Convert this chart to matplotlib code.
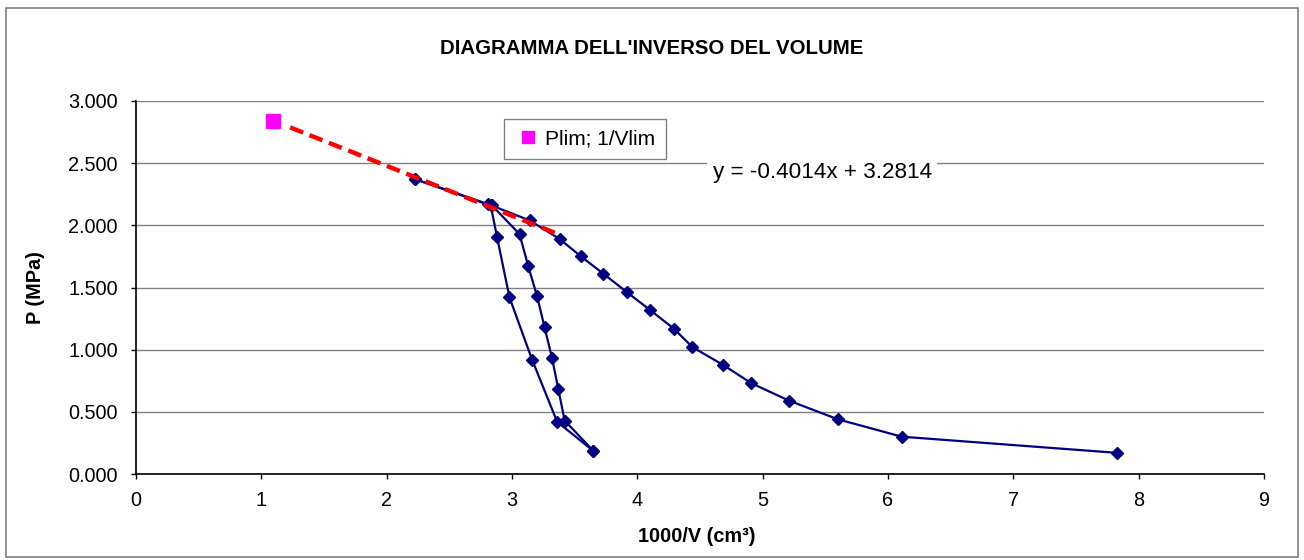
import matplotlib
matplotlib.use("Agg")
import matplotlib.pyplot as plt
from matplotlib.patches import Rectangle
from matplotlib.legend_handler import HandlerLine2D
import numpy as np

plt.rcParams['font.family'] = ['Liberation Sans', 'DejaVu Sans']
plt.rcParams['lines.scale_dashes'] = False

# Loading branch: 1000/V vs pressure (MPa)
load_x = [7.83, 6.11, 5.60, 5.21, 4.91, 4.68, 4.44, 4.29, 4.10, 3.92, 3.73, 3.55, 3.38, 3.14, 2.81, 2.23]
load_p = [0.17, 0.30, 0.44, 0.59, 0.73, 0.88, 1.02, 1.17, 1.32, 1.46, 1.61, 1.75, 1.89, 2.04, 2.17, 2.37]

# Unloading branch
unload_x = [2.23, 2.83, 2.88, 2.98, 3.16, 3.36, 3.65]
unload_p = [2.37, 2.16, 1.91, 1.42, 0.92, 0.42, 0.185]

# Reloading branch
reload_x = [3.65, 3.42, 3.37, 3.32, 3.26, 3.20, 3.13, 3.06, 2.84]
reload_p = [0.185, 0.43, 0.68, 0.93, 1.18, 1.43, 1.67, 1.93, 2.16]

# Linear trend of the upper points (extended backwards) and limit pressure
trend_slope = -0.4014
trend_intercept = 3.2814
trend_x = [1.23, 3.38]
plim_x = [1.094]
plim_p = [trend_intercept + trend_slope * plim_x[0]]

x_ticks = list(range(0, 10))
y_ticks = [0.0, 0.5, 1.0, 1.5, 2.0, 2.5, 3.0]


class MarkerAtRight(HandlerLine2D):
    """Legend handler that puts the single marker near the right end of the handle."""
    def get_xdata(self, legend, xdescent, ydescent, width, height, fontsize):
        xd = np.array([-xdescent, -xdescent + width])
        xm = np.array([-xdescent + width - 2.0])
        return xd, xm


W, H = 1304, 560
fig = plt.figure(figsize=(W / 100, H / 100), dpi=100)
ax = fig.add_axes([136 / W, 1 - 474 / H, 1128 / W, 373 / H])

navy = '#000080'
style = dict(color=navy, lw=1.6, marker='D', ms=6.5, mfc=navy, mec=navy, zorder=3)
ax.plot(load_x, load_p, **style)
ax.plot(unload_x, unload_p, **style)
ax.plot(reload_x, reload_p, **style)

tx = np.array(trend_x)
ax.plot(tx, trend_intercept + trend_slope * tx, color='#FF0000', lw=3.2,
        dashes=(10, 5), zorder=4)

plim_line, = ax.plot(plim_x, plim_p, ls='none', marker='s', ms=10, mfc='#FF00FF',
                     mec='#FF00FF', zorder=5, label='Plim; 1/Vlim')

ax.set_xlim(0, 9)
ax.set_ylim(0, 3)
ax.set_xticks(x_ticks)
ax.set_yticks(y_ticks)
ax.set_yticklabels([f"{v:.3f}" for v in y_ticks])
ax.tick_params(axis='both', direction='out', length=3.6, width=1, labelsize=14.3)
ax.tick_params(axis='y', pad=9.5)
ax.tick_params(axis='x', pad=9.0)
for s in ['top', 'right']:
    ax.spines[s].set_visible(False)
for s in ['left', 'bottom']:
    ax.spines[s].set_linewidth(1.2)
    ax.spines[s].set_zorder(6)
ax.yaxis.grid(True, color='#808080', lw=1)
ax.set_axisbelow(True)

ax.set_xlabel('1000/V (cm³)', fontsize=14.3, fontweight='bold')
ax.xaxis.set_label_coords(0.497, -0.142)
ax.set_ylabel('P (MPa)', fontsize=14.3, fontweight='bold')
ax.yaxis.set_label_coords(-0.0807, 0.5)

fig.text(652 / W, 1 - 48 / H, "DIAGRAMMA DELL'INVERSO DEL VOLUME", ha='center', va='center',
         fontsize=14.7, fontweight='bold')

ax.text(4.60, 2.425, f"y = {trend_slope}x + {trend_intercept}", fontsize=16.2, ha='left',
        va='center', bbox=dict(facecolor='white', edgecolor='none', pad=4), zorder=2)

leg = ax.legend(handles=[plim_line], loc='upper left', bbox_to_anchor=(0.326, 0.952),
                borderaxespad=0, fancybox=False, edgecolor='#808080', framealpha=1,
                fontsize=15, handlelength=1.35, handletextpad=0.15, markerscale=0.8,
                borderpad=0.5, handler_map={plim_line: MarkerAtRight()})
leg.get_frame().set_linewidth(1)

fig.patches.append(Rectangle((6 / W, 1 - 557 / H), 1292 / W, 549 / H, transform=fig.transFigure,
                             fill=False, edgecolor='#808080', lw=1.2))

fig.savefig('out.png', dpi=100)
